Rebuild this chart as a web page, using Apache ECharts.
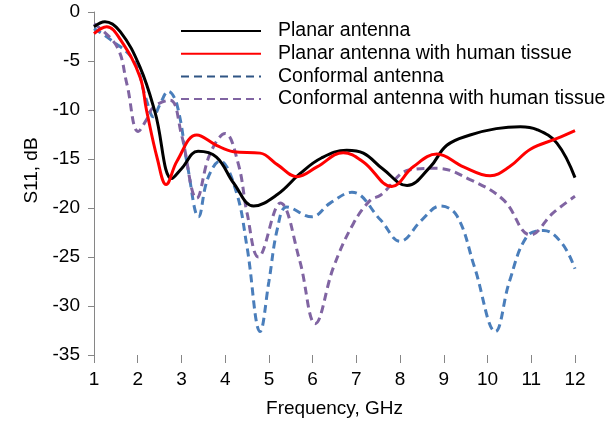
<!DOCTYPE html>
<html>
<head>
<meta charset="utf-8">
<script src="https://cdn.jsdelivr.net/npm/echarts@6/dist/echarts.min.js"></script>
<style>html,body{margin:0;padding:0;background:#fff}#c{width:608px;height:430px}</style>
</head>
<body>
<div id="c"></div>
<script>
const seriesNames = ["Planar antenna", "Planar antenna with human tissue", "Conformal antenna", "Conformal antenna with human tissue"];
const xTicks = [1, 2, 3, 4, 5, 6, 7, 8, 9, 10, 11, 12];
const yTicks = [0, -5, -10, -15, -20, -25, -30, -35];

const freqPlanar = [1.0, 1.25, 1.6, 2.05, 2.4, 2.78, 3.0, 3.38, 3.8, 4.2, 4.65, 5.2, 5.71, 6.2, 6.78, 7.16, 7.6, 8.16, 8.69, 9.07, 9.6, 10.2, 10.75, 11.13, 11.59, 12.0];
const s11Planar  = [-1.5, -1.0, -2.0, -5.6, -10.3, -17.0, -16.0, -14.2, -14.8, -17.5, -19.8, -18.6, -16.5, -14.9, -14.1, -14.4, -16.0, -17.7, -15.8, -13.6, -12.55, -11.9, -11.7, -12.0, -13.4, -16.9];

const freqPlanarTissue = [1.0, 1.29, 1.6, 2.05, 2.2, 2.45, 2.65, 2.9, 3.35, 3.8, 4.19, 4.8, 5.2, 5.64, 6.1, 6.7, 7.16, 7.81, 8.3, 8.84, 9.45, 10.06, 10.5, 10.98, 11.59, 12.0];
const s11PlanarTissue  = [-2.2, -1.5, -2.8, -6.6, -10.0, -15.0, -17.6, -15.2, -12.55, -13.6, -14.25, -14.4, -15.6, -16.8, -15.8, -14.35, -15.3, -17.8, -15.8, -14.5, -15.8, -16.7, -15.8, -14.0, -12.9, -12.1];

const freqConformal = [1.0, 1.37, 1.9, 2.2, 2.36, 2.5, 2.7, 2.9, 3.15, 3.39, 3.6, 3.88, 4.25, 4.5, 4.8, 5.0, 5.2, 5.41, 5.98, 6.4, 6.9, 7.55, 8.0, 8.5, 8.92, 9.3, 9.7, 10.18, 10.5, 10.9, 11.28, 11.7, 12.0];
const s11Conformal  = [-1.7, -2.8, -4.9, -9.0, -10.7, -9.5, -8.1, -9.5, -16.0, -20.9, -17.0, -15.2, -18.3, -24.0, -32.6, -27.5, -22.0, -19.9, -20.9, -19.5, -18.4, -21.2, -23.4, -21.2, -19.8, -20.8, -26.0, -32.6, -27.5, -22.9, -22.3, -23.6, -26.2];

const freqConformalTissue = [1.0, 1.52, 1.75, 2.01, 2.2, 2.36, 2.74, 3.0, 3.35, 3.65, 4.0, 4.3, 4.5, 4.76, 5.26, 5.7, 6.06, 6.48, 6.93, 7.32, 7.55, 8.23, 8.84, 9.6, 10.37, 10.98, 11.5, 12.0];
const s11ConformalTissue  = [-1.2, -3.5, -7.3, -12.2, -11.0, -9.7, -9.0, -12.5, -19.0, -14.5, -12.4, -15.5, -20.5, -25.0, -19.5, -25.3, -31.8, -26.0, -21.6, -19.2, -18.7, -16.1, -15.95, -17.1, -19.2, -22.75, -20.5, -18.8];

function zip(xs, ys) { return xs.map((x, i) => [x, ys[i]]); }

const chart = echarts.init(document.getElementById('c'), null, {renderer: 'canvas'});
const font = 'Liberation Sans, Arial, sans-serif';
chart.setOption({
  animation: false,
  backgroundColor: '#fff',
  grid: {left: 94, right: 33, top: 12, bottom: 75, containLabel: false},
  legend: {
    orient: 'vertical', left: 180, top: 21, padding: 0,
    itemWidth: 80, itemHeight: 14, itemGap: 2.7,
    itemStyle: {opacity: 0},
    textStyle: {fontFamily: font, fontSize: 19.5, color: '#000', padding: [0, 0, 0, 12], lineHeight: 16},
    data: [
      {name: seriesNames[0]},
      {name: seriesNames[1]},
      {name: seriesNames[2], lineStyle: {color: '#2F5584'}},
      {name: seriesNames[3]}
    ]
  },
  xAxis: {
    type: 'value', min: 1, max: 12, interval: 1,
    name: 'Frequency, GHz', nameLocation: 'middle', nameGap: 44,
    nameTextStyle: {fontFamily: font, fontSize: 19, color: '#000'},
    axisLine: {show: false, onZero: false},
    axisTick: {show: true, length: 8, lineStyle: {color: '#868686', width: 1}},
    axisLabel: {fontFamily: font, fontSize: 19, color: '#000', margin: 15,
      formatter: v => xTicks.includes(v) ? String(v) : ''},
    splitLine: {show: false}
  },
  yAxis: {
    type: 'value', min: -35, max: 0, interval: 5,
    name: 'S11, dB', nameLocation: 'middle', nameGap: 52, nameRotate: 90,
    nameTextStyle: {fontFamily: font, fontSize: 19, color: '#000', padding: [0, 0, 0, 26]},
    axisLine: {show: true, onZero: false, lineStyle: {color: '#868686', width: 1}},
    axisTick: {show: true, length: 6, lineStyle: {color: '#868686', width: 1}},
    axisLabel: {fontFamily: font, fontSize: 19, color: '#000', margin: 14,
      formatter: v => yTicks.includes(v) ? String(v) : ''},
    splitLine: {show: false}
  },
  series: [
    {name: seriesNames[0], type: 'line', data: zip(freqPlanar, s11Planar), smooth: 0.4, symbol: 'none',
      lineStyle: {color: '#000000', width: 3}, itemStyle: {color: '#000000'}, z: 4},
    {name: seriesNames[1], type: 'line', data: zip(freqPlanarTissue, s11PlanarTissue), smooth: 0.4, symbol: 'none',
      lineStyle: {color: '#FF0000', width: 3}, itemStyle: {color: '#FF0000'}, z: 5},
    {name: seriesNames[2], type: 'line', data: zip(freqConformal, s11Conformal), smooth: 0.4, symbol: 'none',
      lineStyle: {color: '#4A7EBB', width: 3, type: [8, 5]}, itemStyle: {color: '#4A7EBB'}, z: 2},
    {name: seriesNames[3], type: 'line', data: zip(freqConformalTissue, s11ConformalTissue), smooth: 0.4, symbol: 'none',
      lineStyle: {color: '#8064A2', width: 3, type: [8, 5]}, itemStyle: {color: '#8064A2'}, z: 3}
  ]
});
</script>
</body>
</html>
